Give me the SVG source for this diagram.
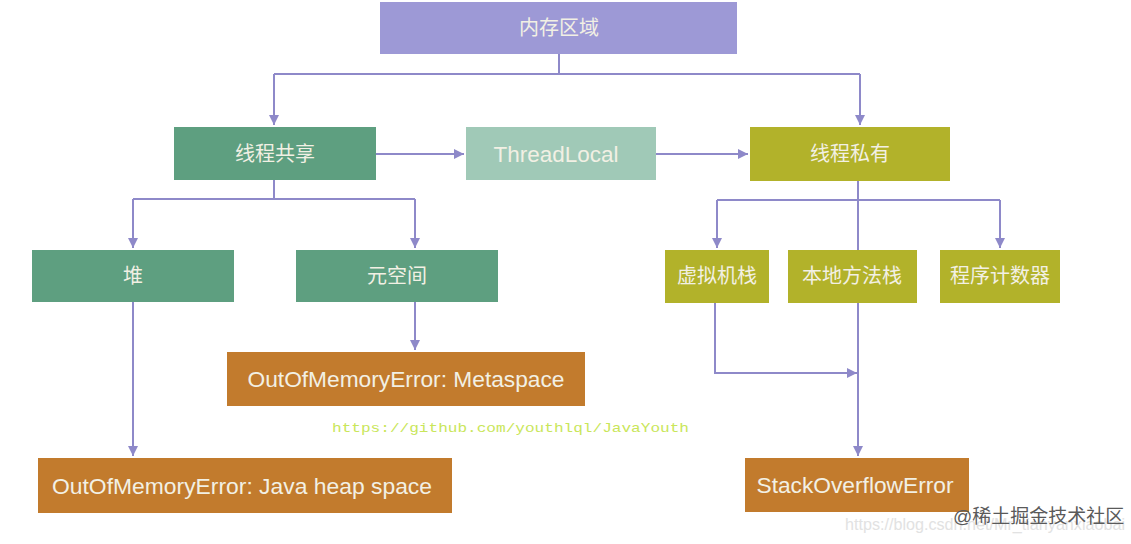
<svg xmlns="http://www.w3.org/2000/svg" width="1131" height="544" viewBox="0 0 1131 544">
<defs>
<marker id="ah" viewBox="0 0 10 10" refX="10" refY="5" markerWidth="10" markerHeight="10" markerUnits="userSpaceOnUse" orient="auto">
<path d="M0,0 L10,5 L0,10 z" fill="#8E89C9"/>
</marker>
</defs>
<style>
.c{fill:none;stroke:#8E89C9;stroke-width:2}
.a{marker-end:url(#ah)}
.t{font-family:"Liberation Sans","Noto Sans CJK SC",sans-serif;fill:#F2F0E4;text-anchor:middle;dominant-baseline:central}
.cn{font-size:20px}
.en{font-size:22px}
</style>
<rect width="1131" height="544" fill="#FFFFFF"/>
<g id="connectors">
<path class="c" d="M559,54 V74 M274,74 H860"/>
<path class="c a" d="M274,74 V125"/>
<path class="c a" d="M860,74 V125"/>
<path class="c a" d="M376,154 H464"/>
<path class="c a" d="M656,154 H748"/>
<path class="c" d="M274,180 V199 M133,199 H415"/>
<path class="c a" d="M133,199 V248"/>
<path class="c a" d="M415,199 V248"/>
<path class="c" d="M858,181 V250 M717,200 H1000"/>
<path class="c a" d="M717,200 V248"/>
<path class="c a" d="M1000,200 V248"/>
<path class="c a" d="M415,302 V350"/>
<path class="c a" d="M133,302 V456"/>
<path class="c a" d="M715,303 V373 H857"/>
<path class="c a" d="M858,303 V456"/>
</g>
<g id="n-memory"><rect x="380" y="2" width="357" height="52" fill="#9D99D6"/><text class="t cn" x="559" y="28">内存区域</text></g>
<g id="n-shared"><rect x="174" y="127" width="202" height="53" fill="#5E9F80"/><text class="t cn" x="275" y="154">线程共享</text></g>
<g id="n-threadlocal"><rect x="466" y="127" width="190" height="53" fill="#A0C9B7"/><text class="t en" x="556" y="154" font-size="21" textLength="125" lengthAdjust="spacingAndGlyphs">ThreadLocal</text></g>
<g id="n-private"><rect x="750" y="127" width="200" height="54" fill="#B2B22A"/><text class="t cn" x="850" y="154">线程私有</text></g>
<g id="n-heap"><rect x="32" y="250" width="202" height="52" fill="#5E9F80"/><text class="t cn" x="133" y="276">堆</text></g>
<g id="n-meta"><rect x="296" y="250" width="202" height="52" fill="#5E9F80"/><text class="t cn" x="397" y="276">元空间</text></g>
<g id="n-vmstack"><rect x="665" y="250" width="104" height="53" fill="#B2B22A"/><text class="t cn" x="717" y="276">虚拟机栈</text></g>
<g id="n-native"><rect x="788" y="250" width="129" height="53" fill="#B2B22A"/><text class="t cn" x="852" y="276">本地方法栈</text></g>
<g id="n-pc"><rect x="940" y="250" width="120" height="53" fill="#B2B22A"/><text class="t cn" x="1000" y="276">程序计数器</text></g>
<g id="n-oom-meta"><rect x="227" y="352" width="358" height="54" fill="#C27B2D"/><text class="t en" x="406" y="379" textLength="317" lengthAdjust="spacingAndGlyphs">OutOfMemoryError: Metaspace</text></g>
<g id="n-oom-heap"><rect x="38" y="458" width="414" height="55" fill="#C27B2D"/><text class="t en" x="242" y="486" textLength="380" lengthAdjust="spacingAndGlyphs">OutOfMemoryError: Java heap space</text></g>
<g id="n-soe"><rect x="745" y="458" width="224" height="54" fill="#C27B2D"/><text class="t en" x="855" y="485" textLength="197" lengthAdjust="spacingAndGlyphs">StackOverflowError</text></g>
<text x="332" y="432" font-family="'Liberation Mono',monospace" font-size="13" fill="#C9E65A" textLength="357" lengthAdjust="spacingAndGlyphs">https://github.com/youthlql/JavaYouth</text>
<text x="845" y="530" font-family="'Liberation Sans',sans-serif" font-size="17" fill="#E2E2E2" textLength="280" lengthAdjust="spacingAndGlyphs">https://blog.csdn.net/Mr_tianyanxiaobai</text>
<text x="953" y="523" font-family="'Liberation Sans','Noto Sans CJK SC',sans-serif" font-size="19" fill="#5A5A5A">@稀土掘金技术社区</text>
</svg>
